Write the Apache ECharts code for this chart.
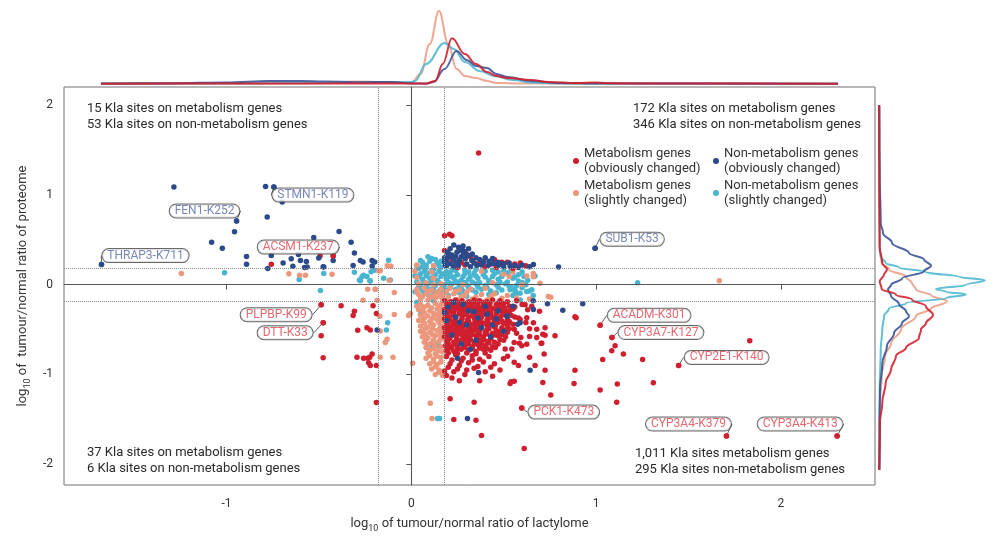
<!DOCTYPE html>
<html>
<head>
<meta charset="utf-8">
<script src="https://cdn.jsdelivr.net/npm/echarts@6/dist/echarts.min.js"></script>
<style>
html,body{margin:0;padding:0;background:#fff;}
#chart{width:1000px;height:538px;}
</style>
</head>
<body>
<div id="chart"></div>
<script>
// ---------------- DATA ----------------
const seriesNames = [
  'Metabolism genes (obviously changed)',
  'Non-metabolism genes (obviously changed)',
  'Metabolism genes (slightly changed)',
  'Non-metabolism genes (slightly changed)'
];
const xTicks = [-1, 0, 1, 2];
const yTicks = [-2, -1, 0, 1, 2];
const foldCut = [-0.176, 0.176];

// Metabolism genes, obviously changed (red)
const metObvious = [
  [-0.758,0.227],[-0.494,0.318],[-0.423,0.318],
  [-0.488,-0.223],[-0.38,-0.234],[-0.308,-0.296],[-0.315,-0.343],[-0.207,-0.234],[-0.189,-0.322],
  [-0.477,-0.424],[-0.488,-0.57],[-0.29,-0.508],[-0.24,-0.479],[-0.222,-0.504],
  [-0.477,-0.815],[-0.294,-0.808],[-0.258,-0.819],[-0.236,-0.819],[-0.225,-0.808],[-0.212,-0.771],
  [-0.231,-0.87],[-0.222,-0.899],[-0.189,-0.899],[-0.189,-1.312],
  [0.364,1.466],[0.18,0.545],[0.207,0.562],[0.22,0.545],
  [0.18,0.38],[0.30,0.337],[0.32,0.31],[0.22,0.28],[0.27,0.25],[0.36,0.23],[0.38,0.26],[0.33,0.27],
  [0.40,0.20],[0.43,0.23],[0.46,0.19],[0.49,0.25],[0.52,0.25],[0.56,0.23],[0.59,0.24],[0.55,0.18],
  [0.25,0.19],[0.45,0.28],[0.62,0.21],[0.29,0.22],
  [0.18,-0.18],[0.215,-0.19],[0.24,-0.17],[0.275,-0.18],[0.31,-0.19],[0.34,-0.17],[0.37,-0.18],[0.41,-0.19],[0.44,-0.17],[0.48,-0.18],[0.52,-0.19],[0.57,-0.18],
  [0.20,-0.205],[0.23,-0.21],[0.26,-0.20],[0.295,-0.21],[0.33,-0.205],[0.355,-0.21],[0.39,-0.20],[0.425,-0.21],[0.47,-0.205],[0.50,-0.21],
  [0.19,-0.23],[0.22,-0.24],[0.255,-0.22],[0.29,-0.23],[0.32,-0.24],[0.36,-0.22],[0.39,-0.23],[0.42,-0.24],[0.46,-0.22],[0.49,-0.23],[0.53,-0.24],[0.60,-0.22],
  [0.195,-0.255],[0.235,-0.26],[0.27,-0.25],[0.305,-0.26],[0.335,-0.255],[0.37,-0.26],[0.405,-0.25],[0.435,-0.26],[0.47,-0.255],[0.505,-0.26],[0.56,-0.25],
  [0.18,-0.28],[0.21,-0.29],[0.245,-0.27],[0.28,-0.28],[0.315,-0.29],[0.35,-0.27],[0.38,-0.28],[0.41,-0.29],[0.45,-0.27],[0.48,-0.28],[0.51,-0.29],[0.55,-0.27],[0.63,-0.28],
  [0.20,-0.305],[0.23,-0.31],[0.265,-0.30],[0.30,-0.31],[0.335,-0.305],[0.37,-0.31],[0.40,-0.30],[0.43,-0.31],[0.465,-0.305],[0.495,-0.31],[0.53,-0.30],
  [0.185,-0.33],[0.225,-0.34],[0.26,-0.32],[0.29,-0.33],[0.33,-0.34],[0.36,-0.32],[0.395,-0.33],[0.43,-0.34],[0.46,-0.32],[0.50,-0.33],[0.54,-0.34],
  [0.20,-0.355],[0.24,-0.36],[0.275,-0.35],[0.31,-0.36],[0.345,-0.355],[0.38,-0.36],[0.415,-0.35],[0.45,-0.36],[0.485,-0.355],[0.56,-0.36],
  [0.18,-0.38],[0.21,-0.39],[0.24,-0.37],[0.275,-0.38],[0.305,-0.39],[0.34,-0.37],[0.375,-0.38],[0.41,-0.39],[0.44,-0.37],[0.47,-0.38],[0.52,-0.39],[0.58,-0.37],
  [0.20,-0.405],[0.235,-0.41],[0.27,-0.40],[0.31,-0.41],[0.345,-0.405],[0.375,-0.41],[0.415,-0.40],[0.45,-0.41],[0.49,-0.405],[0.53,-0.41],
  [0.19,-0.43],[0.225,-0.44],[0.26,-0.42],[0.295,-0.43],[0.33,-0.44],[0.36,-0.42],[0.39,-0.43],[0.43,-0.44],[0.47,-0.42],[0.50,-0.43],[0.55,-0.44],[0.62,-0.42],
  [0.20,-0.455],[0.24,-0.46],[0.275,-0.45],[0.31,-0.46],[0.345,-0.455],[0.375,-0.46],[0.41,-0.45],[0.455,-0.46],[0.52,-0.455],
  [0.18,-0.48],[0.215,-0.49],[0.25,-0.47],[0.28,-0.48],[0.32,-0.49],[0.35,-0.47],[0.38,-0.48],[0.42,-0.49],[0.45,-0.47],[0.49,-0.48],[0.53,-0.49],
  [0.20,-0.505],[0.235,-0.51],[0.27,-0.50],[0.305,-0.51],[0.34,-0.505],[0.37,-0.51],[0.41,-0.50],[0.46,-0.51],[0.51,-0.505],
  [0.185,-0.53],[0.22,-0.54],[0.255,-0.52],[0.29,-0.53],[0.325,-0.54],[0.36,-0.52],[0.40,-0.53],[0.44,-0.54],[0.48,-0.52],[0.52,-0.53],[0.57,-0.54],
  [0.20,-0.555],[0.23,-0.56],[0.265,-0.55],[0.30,-0.56],[0.33,-0.555],[0.37,-0.56],[0.41,-0.55],[0.455,-0.56],[0.49,-0.555],
  [0.18,-0.58],[0.21,-0.59],[0.245,-0.57],[0.28,-0.58],[0.31,-0.59],[0.35,-0.57],[0.39,-0.58],[0.43,-0.59],[0.47,-0.57],[0.51,-0.58],
  [0.205,-0.605],[0.245,-0.61],[0.285,-0.60],[0.32,-0.61],[0.355,-0.605],[0.39,-0.61],[0.43,-0.60],[0.48,-0.61],
  [0.19,-0.63],[0.23,-0.64],[0.265,-0.62],[0.30,-0.63],[0.34,-0.64],[0.37,-0.62],[0.41,-0.63],[0.45,-0.64],[0.50,-0.62],
  [0.20,-0.655],[0.24,-0.66],[0.275,-0.65],[0.31,-0.66],[0.345,-0.655],[0.38,-0.66],[0.42,-0.65],[0.47,-0.66],
  [0.185,-0.68],[0.22,-0.69],[0.25,-0.67],[0.29,-0.68],[0.33,-0.69],[0.36,-0.67],[0.40,-0.68],[0.44,-0.69],
  [0.21,-0.705],[0.25,-0.71],[0.29,-0.70],[0.33,-0.71],[0.37,-0.705],[0.41,-0.71],[0.455,-0.70],
  [0.19,-0.73],[0.23,-0.74],[0.27,-0.72],[0.31,-0.73],[0.35,-0.74],[0.39,-0.72],[0.43,-0.73],
  [0.20,-0.76],[0.25,-0.765],[0.30,-0.76],[0.35,-0.77],[0.40,-0.76],
  [0.19,-0.80],[0.24,-0.78],[0.28,-0.82],[0.33,-0.79],[0.37,-0.83],[0.42,-0.80],[0.21,-0.88],[0.26,-0.90],
  [0.22,-0.84],[0.27,-0.85],[0.33,-0.84],[0.39,-0.86],[0.20,-0.92],[0.25,-0.94],[0.34,-0.93],[0.43,-0.92],
  [0.29,-1.0],[0.44,-1.02],[0.22,-1.04],
  [0.31,-0.87],[0.36,-0.91],[0.45,-0.88],[0.18,-0.96],[0.23,-0.97],[0.30,-0.95],[0.40,-0.97],[0.48,-0.95],
  [0.19,-1.01],[0.26,-1.07],[0.37,-1.07],[0.54,-1.08],[0.21,-1.27],[0.34,-1.31],[0.23,-1.50],[0.35,-1.51],
  [0.38,-1.68],[0.611,-1.824],[0.598,-1.374],
  [0.544,-0.27],[0.616,-0.223],[0.652,-0.241],[0.694,-0.296],[0.625,-0.369],[0.589,-0.387],[0.517,-0.424],
  [0.661,-0.424],[0.557,-0.497],[0.64,-0.49],[0.679,-0.497],[0.724,-0.479],[0.593,-0.589],[0.64,-0.578],
  [0.679,-0.589],[0.712,-0.552],[0.557,-0.643],[0.598,-0.68],[0.508,-0.716],[0.544,-0.716],[0.585,-0.651],
  [0.625,-0.662],[0.499,-0.826],[0.521,-0.797],[0.557,-0.863],[0.58,-0.899],[0.724,-0.563],[0.703,-0.651],
  [0.778,-0.57],[0.719,-0.771],[0.706,-0.651],[0.67,-0.899],[0.64,-0.808],[0.557,-1.075],[0.535,-1.10],
  [0.724,-0.954],[0.712,-1.089],[0.755,-1.228],[0.886,-0.954],[0.881,-1.10],[0.892,-0.369],[1.022,-0.453],
  [1.086,-0.589],[1.103,-0.68],[1.085,-0.735],[1.148,-0.771],[1.036,-0.833],[1.252,-0.833],[1.447,-0.899],
  [1.832,-0.625],[1.31,-1.093],[1.115,-1.107],[1.022,-1.173],[1.112,-1.308],[0.886,-0.358],
  [1.706,-1.685],[2.305,-1.685]
];

// Non-metabolism genes, obviously changed (navy)
const nonObvious = [
  [-1.677,0.223],[-1.285,1.086],[-0.789,1.093],[-0.744,1.086],[-0.699,0.921],[-0.946,0.709],[-0.78,0.753],
  [-0.957,0.589],[-0.391,0.592],[-1.081,0.471],[-1.023,0.406],[-0.528,0.526],[-0.326,0.471],[-0.308,0.351],
  [-0.892,0.314],[-0.892,0.227],[-0.758,0.325],[-0.694,0.241],[-0.65,0.289],[-0.611,0.336],[-0.6,0.27],
  [-0.568,0.259],[-0.641,0.205],[-0.564,0.197],[-0.501,0.296],[-0.474,0.197],[-0.423,0.27],[-0.315,0.212],
  [-0.276,0.27],[-0.261,0.252],[-0.212,0.27],[-0.198,0.252],[-0.212,0.208],[-0.777,0.179],[-0.477,0.2],
  [-0.578,0.19],[-0.185,-0.504],
  [0.256,0.417],[0.274,0.398],[0.247,0.362],[0.283,0.343],[0.193,0.362],[0.202,0.307],[0.229,0.289],
  [0.292,0.289],[0.328,0.27],[0.31,0.325],[0.355,0.216],[0.418,0.216],[0.445,0.234],[0.472,0.216],
  [0.499,0.234],[0.535,0.205],[0.562,0.216],[0.58,0.19],[0.661,0.223],[0.797,0.197],[0.995,0.406],
  [0.184,0.216],[0.211,0.234],[0.256,0.216],[0.18,0.252],[0.18,0.30],[0.24,0.25],[0.27,0.31],[0.34,0.24],
  [0.39,0.25],[0.22,0.33],[0.30,0.23],[0.19,0.27],[0.26,0.27],[0.37,0.28],[0.42,0.26],[0.50,0.20],[0.47,0.25],
  [0.21,0.40],[0.23,0.44],[0.29,0.37],[0.33,0.34],[0.35,0.30],[0.40,0.30],[0.44,0.29],[0.24,0.31],[0.20,0.35],
  [0.28,0.43],[0.31,0.40],[0.26,0.38],[0.19,0.21],[0.23,0.20],[0.32,0.20],[0.38,0.22],[0.53,0.24],[0.60,0.22],[0.64,0.20],
  [0.20,-0.25],[0.28,-0.22],[0.34,-0.30],[0.24,-0.36],[0.41,-0.33],[0.46,-0.38],[0.30,-0.45],[0.38,-0.48],
  [0.52,-0.35],[0.22,-0.56],[0.43,-0.58],[0.50,-0.52],[0.19,-0.40],[0.35,-0.62],[0.27,-0.66],[0.47,-0.29],
  [0.55,-0.24],[0.23,-0.20],[0.31,-0.29],[0.26,-0.42],[0.36,-0.37],[0.40,-0.24],[0.18,-0.31],[0.44,-0.45],
  [0.32,-0.72],[0.25,-0.82],
  [0.364,-0.979],[0.643,-0.954],[0.304,-1.491],[0.737,-0.212],[0.82,-0.285],[0.928,-0.212],[0.589,-0.424],
  [0.575,-0.442],[0.517,-0.351],[0.661,-0.277],[0.66,-0.18]
];

// Metabolism genes, slightly changed (salmon)
const metSlight = [
  [-1.245,0.124],[-0.663,0.121],[-0.605,0.106],[-0.573,0.106],[-0.429,0.117],[-0.236,-0.051],[-0.195,-0.051],
  [-0.092,-0.088],[-0.261,-0.175],[-0.185,-0.175],[-0.177,0.154],[-0.168,0.154],[-0.11,0.205],[-0.12,0.05],
  [-0.171,-0.351],[-0.092,-0.332],[-0.015,-0.343],[-0.168,-0.515],[-0.131,-0.607],[-0.141,-0.643],
  [-0.168,-0.808],[-0.099,-0.808],[0.007,-0.874],[0.03,-0.24],[-0.005,-0.32],[-0.13,0.21],
  [0.03,0.22],[0.12,0.21],
  [0.02,0.15],[0.11,0.14],[0.38,0.15],[0.55,0.14],
  [0.03,0.08],[0.12,0.07],[0.53,0.09],
  [0.04,0.01],[0.08,0.02],[0.12,0.00],[0.16,0.01],[0.28,0.00],[0.44,0.02],[0.60,0.00],
  [0.03,-0.05],[0.07,-0.04],[0.11,-0.06],[0.16,-0.05],[0.21,-0.04],[0.26,-0.06],[0.32,-0.05],[0.40,-0.04],
  [0.03,-0.08],[0.09,-0.075],[0.14,-0.085],[0.19,-0.08],[0.24,-0.075],[0.30,-0.085],
  [0.04,-0.11],[0.08,-0.10],[0.12,-0.12],[0.17,-0.11],[0.23,-0.10],[0.29,-0.12],[0.38,-0.11],[0.45,-0.10],[0.52,-0.12],
  [0.06,-0.135],[0.10,-0.14],[0.15,-0.13],[0.20,-0.14],[0.27,-0.135],[0.35,-0.14],[0.43,-0.13],
  [0.05,-0.16],[0.09,-0.17],[0.13,-0.15],[0.17,-0.16],[0.25,-0.17],[0.33,-0.16],[0.41,-0.17],[0.49,-0.15],
  [0.05,-0.22],[0.09,-0.23],[0.13,-0.21],[0.16,-0.22],
  [0.07,-0.25],[0.11,-0.26],[0.15,-0.245],[0.04,-0.28],
  [0.06,-0.28],[0.10,-0.29],[0.14,-0.27],[0.17,-0.28],
  [0.07,-0.31],[0.12,-0.32],[0.155,-0.305],
  [0.05,-0.34],[0.09,-0.35],[0.13,-0.33],[0.16,-0.34],
  [0.07,-0.37],[0.115,-0.375],[0.15,-0.365],[0.04,-0.40],
  [0.06,-0.40],[0.10,-0.41],[0.14,-0.39],[0.17,-0.40],
  [0.07,-0.43],[0.11,-0.435],[0.15,-0.425],
  [0.05,-0.46],[0.09,-0.47],[0.12,-0.45],[0.16,-0.46],
  [0.075,-0.49],[0.115,-0.495],[0.155,-0.485],[0.05,-0.52],
  [0.06,-0.52],[0.10,-0.53],[0.14,-0.51],[0.17,-0.52],
  [0.075,-0.55],[0.115,-0.555],[0.155,-0.545],
  [0.06,-0.58],[0.09,-0.59],[0.13,-0.57],[0.16,-0.58],
  [0.08,-0.61],[0.12,-0.615],[0.16,-0.605],
  [0.07,-0.64],[0.11,-0.65],[0.15,-0.63],
  [0.09,-0.67],[0.13,-0.675],
  [0.08,-0.70],[0.12,-0.71],[0.16,-0.69],
  [0.10,-0.73],[0.145,-0.735],
  [0.09,-0.76],[0.13,-0.77],[0.17,-0.75],
  [0.10,-0.79],[0.14,-0.795],
  [0.08,-0.82],[0.12,-0.83],[0.16,-0.81],
  [0.12,-0.855],[0.16,-0.86],
  [0.10,-0.88],[0.14,-0.89],[0.13,-0.915],[0.11,-0.94],[0.15,-0.95],[0.15,-0.975],[0.13,-1.00],[0.17,-1.01],
  [0.103,-1.319],[0.112,-1.491],
  [0.50,0.117],[0.625,0.095],[0.661,0.088],[0.66,0.124],[0.697,0.015],[0.742,-0.132],[0.755,-0.139],
  [1.667,0.044],[0.57,-0.15],[0.64,-0.16]
];

// Non-metabolism genes, slightly changed (cyan)
const nonSlight = [
  [-1.011,0.132],[-0.607,0.058],[-0.474,0.124],[-0.492,-0.066],[-0.308,0.139],[-0.281,0.051],[-0.267,0.088],
  [-0.258,0.106],[-0.222,0.041],[-0.218,0.143],[-0.195,-0.051],[-0.24,0.09],[-0.20,0.16],[-0.128,-0.424],
  [-0.135,-0.504],[-0.15,0.07],[-0.123,0.271],[-0.114,0.051],[-0.276,0.044],[-0.225,0.044],
  [0.06,0.25],[0.10,0.26],[0.14,0.24],[0.08,0.22],[0.11,0.29],[0.16,0.26],[0.03,0.21],
  [0.05,0.27],[0.13,0.28],[0.09,0.31],[0.15,0.21],[0.06,0.20],
  [0.04,0.18],[0.08,0.19],[0.12,0.17],[0.16,0.19],[0.22,0.17],[0.29,0.16],[0.35,0.17],[0.44,0.16],[0.50,0.15],
  [0.07,0.15],[0.11,0.155],[0.15,0.15],[0.19,0.145],[0.24,0.155],[0.31,0.14],[0.40,0.15],[0.47,0.14],[0.54,0.155],[0.60,0.14],
  [0.05,0.12],[0.09,0.13],[0.13,0.11],[0.17,0.12],[0.21,0.13],[0.25,0.11],[0.29,0.12],[0.34,0.13],[0.39,0.11],
  [0.45,0.12],[0.52,0.13],[0.58,0.11],
  [0.04,0.09],[0.08,0.095],[0.12,0.085],[0.16,0.09],[0.19,0.095],[0.23,0.085],[0.28,0.09],[0.35,0.095],[0.40,0.085],[0.49,0.09],[0.56,0.085],
  [0.06,0.06],[0.10,0.07],[0.14,0.05],[0.19,0.06],[0.23,0.07],[0.27,0.05],[0.31,0.06],[0.36,0.07],[0.42,0.05],
  [0.47,0.06],[0.55,0.07],[0.63,0.05],
  [0.07,0.03],[0.11,0.035],[0.15,0.025],[0.20,0.03],[0.24,0.035],[0.29,0.025],[0.33,0.03],[0.42,0.035],[0.52,0.03],[0.60,0.025],
  [0.05,0.00],[0.09,0.01],[0.13,-0.01],[0.18,0.00],[0.22,0.01],[0.26,-0.01],[0.30,0.00],[0.35,0.01],[0.40,-0.01],
  [0.46,0.00],[0.51,0.01],[0.57,-0.01],[0.62,0.00],
  [0.04,-0.03],[0.08,-0.025],[0.12,-0.035],[0.17,-0.03],[0.21,-0.025],[0.27,-0.035],[0.31,-0.03],[0.36,-0.025],[0.41,-0.035],[0.47,-0.03],[0.54,-0.025],[0.60,-0.035],
  [0.06,-0.06],[0.10,-0.05],[0.15,-0.07],[0.19,-0.06],[0.24,-0.05],[0.28,-0.07],[0.33,-0.06],[0.38,-0.05],
  [0.43,-0.07],[0.49,-0.06],[0.56,-0.05],[0.64,-0.07],
  [0.07,-0.09],[0.12,-0.085],[0.17,-0.095],[0.26,-0.09],[0.35,-0.085],[0.46,-0.09],[0.57,-0.095],
  [0.09,-0.11],[0.20,-0.12],[0.30,-0.13],[0.42,-0.11],[0.55,-0.12],[0.66,-0.12],
  [0.12,-0.18],[0.34,-0.17],[0.59,-0.17],
  [0.02,0.10],[0.03,0.03],[0.02,-0.08],[0.21,0.09],[0.26,0.03],[0.32,0.09],[0.37,0.02],[0.44,0.09],
  [0.48,0.03],[0.53,-0.02],[0.58,0.04],[0.61,0.09],
  [0.03,-0.20],[0.05,-0.33],[0.14,-0.66],
  [0.535,-0.058],[0.562,-0.077],[0.589,-0.095],[0.625,-0.077],[0.652,-0.058],[0.67,0.095],[1.225,0.022],
  [0.112,-0.68],[0.148,-0.68],[0.142,-1.49],[0.153,-1.49]
];

// labelled sites
const labelNames = ['THRAP3-K711','FEN1-K252','STMN1-K119','ACSM1-K237','PLPBP-K99','DTT-K33','SUB1-K53',
  'ACADM-K301','CYP3A7-K127','CYP2E1-K140','PCK1-K473','CYP3A4-K379','CYP3A4-K413'];
const labelX = [-1.677,-0.946,-0.744,-0.423,-0.488,-0.477,0.995,1.022,1.086,1.447,0.598,1.706,2.305];
const labelY = [0.223,0.709,1.086,0.318,-0.223,-0.424,0.406,-0.453,-0.589,-0.899,-1.374,-1.685,-1.685];
const labelGroup = ['non','non','non','met','met','met','non','met','met','met','met','met','met'];

// marginal densities (top: [x, height]; right: [width, y])
const topMetObvious = [[-1.68,0.3],[-1.0,0.5],[-0.5,0.5],[0.0,0.4],[0.08,0.5],[0.13,3],[0.17,20],[0.22,45.7],[0.29,30],[0.35,20],[0.41,12],[0.46,8],[0.52,6],[0.65,4],[0.74,2],[0.9,1],[1.0,1.5],[1.1,0.7],[1.5,0.5],[2.31,0.3]];
const topNonObvious = [[-1.68,0.5],[-1.3,0.8],[-1.0,1.5],[-0.77,3],[-0.6,3],[-0.47,2.5],[-0.3,1.8],[-0.1,2],[0.0,0.6],[0.08,0.3],[0.12,2],[0.18,15],[0.245,33],[0.3,24],[0.35,18],[0.41,16],[0.46,10],[0.52,7],[0.65,3],[0.8,1],[1.0,0.5],[2.31,0.3]];
const topMetSlight = [[-1.68,0.3],[-1.0,0.4],[-0.5,0.8],[-0.3,2.5],[-0.15,2],[-0.05,1.5],[0.0,1],[0.05,10],[0.1,40],[0.15,73],[0.2,40],[0.245,15],[0.29,8],[0.35,6],[0.41,3],[0.46,1],[0.6,0.5],[1.2,0.4],[2.31,0.3]];
const topNonSlight = [[-1.68,0.3],[-1.0,0.6],[-0.5,1],[-0.2,1.5],[0.0,2],[0.02,3],[0.08,20],[0.18,41],[0.23,35],[0.29,22],[0.37,13],[0.45,8],[0.55,4],[0.65,1.5],[0.8,0.6],[1.2,0.4],[2.31,0.3]];

const rightNonObvious = [[0,2.0],[0.3,1.6],[0.7,1.25],[1.7,0.71],[4,0.6],[13,0.49],[30,0.38],[45,0.31],[52,0.24],[45,0.18],[23,0.10],[12,0.03],[9,-0.02],[12,-0.09],[20,-0.18],[27,-0.26],[30,-0.31],[23,-0.39],[15,-0.50],[8,-0.64],[3.3,-0.83],[1,-1.12],[0.5,-1.5],[0.3,-2.0]];
const rightNonSlight = [[0.3,2.0],[0.3,1.25],[0.7,0.42],[1.7,0.34],[6.7,0.27],[20,0.22],[47,0.17],[80,0.12],[106,0.08],[87,0.03],[57,-0.015],[67,-0.045],[87,-0.075],[67,-0.115],[27,-0.17],[10,-0.23],[5,-0.31],[3.3,-0.46],[1.7,-0.68],[0.7,-1.12],[0.3,-2.0]];
const rightMetSlight = [[0.3,2.0],[0.3,1.07],[0.7,0.42],[2.7,0.27],[10,0.2],[27,0.12],[33,0.05],[37,-0.02],[53,-0.09],[68,-0.15],[52,-0.23],[37,-0.31],[22,-0.46],[12,-0.61],[6,-0.75],[2.7,-0.97],[0.7,-1.3],[0.3,-2.0]];
const rightMetObvious = [[0.3,2.0],[0.3,1.07],[0.7,0.45],[3.3,0.27],[8,0.2],[5,0.14],[0.7,0.07],[2.7,-0.015],[17,-0.077],[33,-0.13],[47,-0.205],[54,-0.30],[47,-0.39],[42,-0.46],[40,-0.55],[27,-0.66],[17,-0.75],[12,-0.90],[6.7,-1.04],[3.3,-1.26],[1,-1.48],[0.3,-2.0]];

// ---------------- STYLE / LAYOUT ----------------
const colors = { met:'#cf1f2e', non:'#2c4a8a', metS:'#ec967c', nonS:'#48b5d0' };
const labelColors = { met:'#e0414b', non:'#5569a8' };
const labelOffsets = [[44,-9],[-32,-10],[39,8],[-35,-9],[-45,10],[-38,10],[37,-9],[49,-10],[49,-5],[48,-8],[42,4],[-38,-12],[-37,-12]];
const FONT = 'Roboto, "Noto Sans", sans-serif';

const chart = echarts.init(document.getElementById('chart'), null, {renderer:'canvas'});

function scatter(name, data, color){
  return { name, type:'scatter', xAxisIndex:0, yAxisIndex:0, data, symbolSize:5.5,
    itemStyle:{color, opacity:1}, emphasis:{disabled:true}, z:2, animation:false };
}
function dens(name, data, color, axis, mono){
  return { name, type:'line', xAxisIndex:axis, yAxisIndex:axis, data, symbol:'none', smooth:0.4,
    smoothMonotone: mono, lineStyle:{color, width:2, opacity:0.9}, itemStyle:{color}, silent:true, z:2, animation:false };
}

const labelData = labelNames.map((n,i)=>({
  name:n, value:[labelX[i], labelY[i]],
  itemStyle:{color: labelGroup[i]==='met' ? colors.met : colors.non},
  label:{color: labelColors[labelGroup[i]]}
}));

const option = {
  backgroundColor:'#fff',
  animation:false,
  textStyle:{fontFamily:FONT},
  grid:[
    {left:64, top:87, width:811, height:404, show:true, borderColor:'#707070', borderWidth:1},
    {left:64, top:4, width:811, height:80},
    {left:879, top:87, width:120, height:404}
  ],
  xAxis:[
    {type:'value', gridIndex:0, min:-1.88, max:2.51,
     axisLine:{show:true, lineStyle:{color:'#707070'}},
     axisTick:{show:true, customValues:xTicks, length:5, lineStyle:{color:'#555'}},
     axisLabel:{customValues:xTicks, color:'#333', fontSize:12, margin:13, fontFamily:FONT},
     splitLine:{show:false},
     name:'{b|log}{s|10}{b| of tumour/normal ratio of lactylome}', nameLocation:'middle', nameGap:30,
     nameTextStyle:{color:'#333', rich:{b:{fontSize:13, color:'#333', fontFamily:FONT, lineHeight:18, verticalAlign:'middle'}, s:{fontSize:9, color:'#333', fontFamily:FONT, lineHeight:18, verticalAlign:'bottom'}}}},
    {type:'value', gridIndex:1, min:-1.88, max:2.51, show:false, splitLine:{show:false}},
    {type:'value', gridIndex:2, min:0, max:120, show:false, splitLine:{show:false}}
  ],
  yAxis:[
    {type:'value', gridIndex:0, min:-2.23, max:2.20,
     axisLine:{show:true, lineStyle:{color:'#707070'}},
     axisTick:{show:true, customValues:yTicks, length:5, lineStyle:{color:'#555'}},
     axisLabel:{customValues:yTicks, color:'#333', fontSize:12, margin:11, fontFamily:FONT},
     splitLine:{show:false},
     name:'{b|log}{s|10}{b| of  tumour/normal ratio of proteome}', nameLocation:'middle', nameGap:32, nameRotate:90,
     nameTextStyle:{color:'#333', rich:{b:{fontSize:13, color:'#333', fontFamily:FONT, lineHeight:18, verticalAlign:'middle'}, s:{fontSize:9, color:'#333', fontFamily:FONT, lineHeight:18, verticalAlign:'bottom'}}}},
    {type:'value', gridIndex:1, min:0, max:80, show:false, splitLine:{show:false}},
    {type:'value', gridIndex:2, min:-2.23, max:2.20, show:false, splitLine:{show:false}}
  ],
  legend:[
    {left:568, top:141, orient:'vertical', itemGap:2, itemWidth:6, itemHeight:6, icon:'circle',
     data:[seriesNames[0], seriesNames[2]], selectedMode:false,
     formatter:n=>n.replace(' (', '\n('),
     textStyle:{fontSize:13, color:'#333', lineHeight:15, fontFamily:FONT}},
    {left:708, top:141, orient:'vertical', itemGap:2, itemWidth:6, itemHeight:6, icon:'circle',
     data:[seriesNames[1], seriesNames[3]], selectedMode:false,
     formatter:n=>n.replace(' (', '\n('),
     textStyle:{fontSize:13, color:'#333', lineHeight:15, fontFamily:FONT}}
  ],
  graphic:[
    {type:'text', left:87, top:101, silent:true, style:{text:'15 Kla sites on metabolism genes\n53 Kla sites on non-metabolism genes', fill:'#2a2a2a', fontSize:13, fontFamily:FONT, lineHeight:15.5}},
    {type:'text', left:633, top:101, silent:true, style:{text:'172 Kla sites on metabolism genes\n346 Kla sites on non-metabolism genes', fill:'#2a2a2a', fontSize:13, fontFamily:FONT, lineHeight:15.5}},
    {type:'text', left:87, top:445, silent:true, style:{text:'37 Kla sites on metabolism genes\n6 Kla sites on non-metabolism genes', fill:'#2a2a2a', fontSize:13, fontFamily:FONT, lineHeight:16}},
    {type:'text', left:635, top:446, silent:true, style:{text:'1,011 Kla sites metabolism genes\n295 Kla sites non-metabolism genes', fill:'#2a2a2a', fontSize:13, fontFamily:FONT, lineHeight:16}}
  ],
  series:[
    scatter(seriesNames[3], nonSlight, colors.nonS),
    scatter(seriesNames[2], metSlight, colors.metS),
    scatter(seriesNames[0], metObvious, colors.met),
    scatter(seriesNames[1], nonObvious, colors.non),
    { type:'scatter', xAxisIndex:0, yAxisIndex:0, data:[], silent:true, z:4,
      markLine:{ silent:true, symbol:'none', animation:false, label:{show:false},
        data:[
          {xAxis:foldCut[0], lineStyle:{type:'dotted', color:'#8a8a8a', width:1}},
          {xAxis:foldCut[1], lineStyle:{type:'dotted', color:'#8a8a8a', width:1}},
          {yAxis:foldCut[0], lineStyle:{type:'dotted', color:'#8a8a8a', width:1}},
          {yAxis:foldCut[1], lineStyle:{type:'dotted', color:'#8a8a8a', width:1}},
          {xAxis:0, lineStyle:{type:'solid', color:'#555', width:1.1}},
          {yAxis:0, lineStyle:{type:'solid', color:'#555', width:1.1}}
        ]}},
    { name:'labels', type:'scatter', xAxisIndex:0, yAxisIndex:0, data:labelData, symbolSize:5.5, z:6,
      emphasis:{disabled:true}, animation:false,
      label:{show:true, position:'inside', formatter:'{b}', fontSize:12, fontFamily:FONT,
        backgroundColor:'#fff', borderColor:'#444', borderWidth:1, borderRadius:7, padding:[1,5,0,5], lineHeight:12},
      labelLine:{show:true, lineStyle:{color:'#333', width:0.8}},
      labelLayout:(p)=>{ const o = labelOffsets[p.dataIndex]; return {dx:o[0], dy:o[1], hideOverlap:false}; }
    },
    dens('top-metS', topMetSlight, '#ee9d86', 1, 'x'),
    dens('top-nonS', topNonSlight, '#4fb8d0', 1, 'x'),
    dens('top-non', topNonObvious, '#3b5597', 1, 'x'),
    dens('top-met', topMetObvious, '#d3202f', 1, 'x'),
    dens('right-metS', rightMetSlight, '#ee9d86', 2, 'y'),
    dens('right-nonS', rightNonSlight, '#4fb8d0', 2, 'y'),
    dens('right-non', rightNonObvious, '#3b5597', 2, 'y'),
    dens('right-met', rightMetObvious, '#d3202f', 2, 'y')
  ]
};
chart.setOption(option);
</script>
</body>
</html>
